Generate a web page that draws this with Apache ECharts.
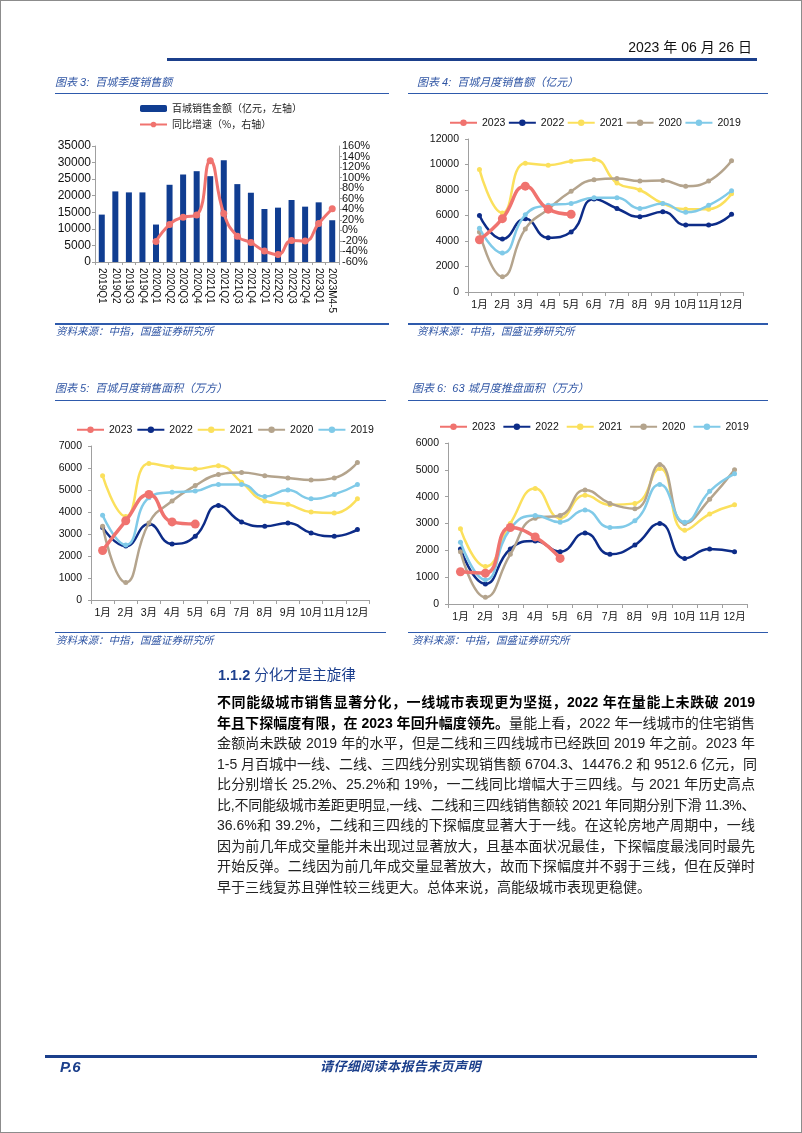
<!DOCTYPE html>
<html><head><meta charset="utf-8">
<script src="https://cdn.jsdelivr.net/npm/echarts@6/dist/echarts.min.js"></script>
<style>
html,body{margin:0;padding:0;background:#fff;}
#page{position:relative;width:802px;height:1133px;overflow:hidden;font-family:"Liberation Sans","Noto Sans CJK SC",sans-serif;background:#fff;}
#chart{position:absolute;left:0;top:0;width:802px;height:1133px;}
.frame{position:absolute;left:0;top:0;width:802px;height:1133px;border:1px solid #8c8c8c;box-sizing:border-box;pointer-events:none;}
.abs{position:absolute;white-space:nowrap;}
.rule{position:absolute;background:#2E5AAC;height:1.5px;}
.title{font-style:italic;color:#2F55A4;font-size:11px;line-height:14px;}
.src{font-style:italic;color:#2F55A4;font-size:10.5px;line-height:14px;}
#para{position:absolute;left:217px;top:692px;width:538px;font-size:14px;line-height:20.5px;color:#222;}
.ln{height:20.5px;text-align:justify;text-align-last:justify;white-space:nowrap;}
.ln.last{text-align-last:left;}
.ln.tight{letter-spacing:-0.45px;}
.ln b{color:#000;font-weight:bold;}
</style></head>
<body>
<div id="page">
<div id="chart"></div>
<div class="abs" style="right:50px;top:39px;font-size:14px;line-height:17px;color:#111;">2023 年 06 月 26 日</div>
<div class="abs" style="left:167px;top:58px;width:590px;height:2.5px;background:#1B3F8B;"></div>

<div class="abs title" style="left:55px;top:75px;">图表 3:&nbsp; 百城季度销售额</div>
<div class="rule" style="left:55px;top:92.5px;width:334px;"></div>
<div class="abs title" style="left:417px;top:75px;">图表 4:&nbsp; 百城月度销售额（亿元）</div>
<div class="rule" style="left:408px;top:92.5px;width:360px;"></div>
<div class="rule" style="left:55px;top:323px;width:334px;"></div>
<div class="abs src" style="left:56px;top:324px;">资料来源：中指，国盛证券研究所</div>
<div class="rule" style="left:408px;top:323px;width:360px;"></div>
<div class="abs src" style="left:417px;top:324px;">资料来源：中指，国盛证券研究所</div>

<div class="abs title" style="left:55px;top:381px;">图表 5:&nbsp; 百城月度销售面积（万方）</div>
<div class="rule" style="left:55px;top:399.5px;width:331px;"></div>
<div class="abs title" style="left:412px;top:381px;">图表 6:&nbsp; 63 城月度推盘面积（万方）</div>
<div class="rule" style="left:408px;top:399.5px;width:360px;"></div>
<div class="rule" style="left:55px;top:631.5px;width:331px;"></div>
<div class="abs src" style="left:56px;top:633px;">资料来源：中指，国盛证券研究所</div>
<div class="rule" style="left:408px;top:631.5px;width:360px;"></div>
<div class="abs src" style="left:412px;top:633px;">资料来源：中指，国盛证券研究所</div>

<div class="abs" style="left:218px;top:666px;font-size:14.5px;line-height:18px;color:#1C3F8E;"><b>1.1.2</b> 分化才是主旋律</div>

<div id="para">
<div class="ln"><b>不同能级城市销售显著分化，一线城市表现更为坚挺，2022 年在量能上未跌破 2019</b></div>
<div class="ln"><b>年且下探幅度有限，在 2023 年回升幅度领先。</b>量能上看，2022 年一线城市的住宅销售</div>
<div class="ln">金额尚未跌破 2019 年的水平，但是二线和三四线城市已经跌回 2019 年之前。2023 年</div>
<div class="ln">1-5 月百城中一线、二线、三四线分别实现销售额 6704.3、14476.2 和 9512.6 亿元，同</div>
<div class="ln">比分别增长 25.2%、25.2%和 19%，一二线同比增幅大于三四线。与 2021 年历史高点</div>
<div class="ln tight">比,不同能级城市差距更明显,一线、二线和三四线销售额较 2021 年同期分别下滑 11.3%、</div>
<div class="ln">36.6%和 39.2%，二线和三四线的下探幅度显著大于一线。在这轮房地产周期中，一线</div>
<div class="ln">因为前几年成交量能并未出现过显著放大，且基本面状况最佳，下探幅度最浅同时最先</div>
<div class="ln">开始反弹。二线因为前几年成交量显著放大，故而下探幅度并不弱于三线，但在反弹时</div>
<div class="ln last">早于三线复苏且弹性较三线更大。总体来说，高能级城市表现更稳健。</div>
</div>

<div class="abs" style="left:45px;top:1054.5px;width:712px;height:3px;background:#1B3F8B;"></div>
<div class="abs" style="left:60px;top:1058px;font-size:15px;line-height:17px;font-weight:bold;font-style:italic;color:#1B3F8B;">P.6</div>
<div class="abs" style="left:320px;top:1058px;font-size:13px;line-height:17px;font-weight:bold;font-style:italic;color:#1B3F8B;letter-spacing:0.4px;">请仔细阅读本报告末页声明</div>
<div class="frame"></div>
</div>

<script>
// ---- data ----
const quarters = ['2019Q1','2019Q2','2019Q3','2019Q4','2020Q1','2020Q2','2020Q3','2020Q4','2021Q1','2021Q2','2021Q3','2021Q4','2022Q1','2022Q2','2022Q3','2022Q4','2023Q1','2023M4-5'];
const quarterSales = [14300,21300,21000,21000,11300,23300,26400,27400,25900,30700,23500,20900,16000,16400,18700,16700,18000,12600];
const quarterYoY = [null,null,null,null,-21,11,25,29,132,32,-11,-23,-39,-46,-19,-20,13,41];
const months = ['1月','2月','3月','4月','5月','6月','7月','8月','9月','10月','11月','12月'];
const yearNames = ['2023','2022','2021','2020','2019'];

const amount2023 = [4100,5750,8300,6500,6100];
const amount2022 = [6000,4150,5750,4250,4700,7300,6550,5900,6300,5250,5250,6100];
const amount2021 = [9600,6200,10100,9950,10250,10400,8550,8000,6950,6500,6500,7700];
const amount2020 = [4700,1200,4950,6500,7900,8800,8900,8700,8750,8300,8700,10300];
const amount2019 = [5000,3050,6050,6800,6950,7400,7400,6550,6950,6250,6800,7950];

const area2023 = [2250,3600,4800,3550,3450];
const area2022 = [3300,2450,3450,2550,2900,4300,3550,3350,3500,3050,2900,3200];
const area2021 = [5650,3800,6200,6050,5950,6100,5350,4500,4350,4000,3950,4600];
const area2020 = [3350,800,3500,4500,5200,5700,5800,5650,5550,5450,5550,6250];
const area2019 = [3850,2500,4650,4900,4950,5250,5250,4700,5000,4600,4800,5250];

const launch2023 = [1200,1150,2850,2500,1700];
const launch2022 = [2050,750,2050,2350,1950,2650,1850,2200,3000,1700,2050,1950];
const launch2021 = [2800,1400,3000,4300,3200,4050,3700,3750,5050,2750,3350,3700];
const launch2020 = [1950,250,1850,3200,3300,4250,3750,3550,5200,3000,3900,5000];
const launch2019 = [2300,900,2800,3300,3050,3500,2850,3100,4450,3050,4200,4850];

// axis ranges [min, max, interval]
const salesAxisRange = [0,35000,5000];
const yoyAxisRange = [-60,160,20];
const amountAxisRange = [0,12000,2000];
const areaAxisRange = [0,7000,1000];
const launchAxisRange = [0,6000,1000];

// ---- styles ----
const yearColors = ['#F0736F','#0D2C88','#FBE05C','#B4A48D','#80CAE8'];
const yearWidths = [3.5,2.5,2.5,2.5,2.5];
const yearSymbols = [9,5,5,5,5];
const yearZ = [10,5,6,7,8];
const axisGray = '#A0A0A0';
const latinCjk = 'Liberation Sans, Noto Sans CJK SC, sans-serif';

const chart = echarts.init(document.getElementById('chart'), null, {renderer:'canvas'});

function plain(v) { return String(v); }
function yAxisOf(gridIndex, range, label, extra) {
  return Object.assign({
    gridIndex, type:'value', min:range[0], max:range[1], interval:range[2],
    splitLine:{show:false},
    axisLine:{show:true, lineStyle:{color:axisGray}},
    axisTick:{show:true, length:3, lineStyle:{color:axisGray}},
    axisLabel:Object.assign({fontSize:10.5, color:'#111', margin:9, fontFamily:latinCjk,
      formatter:plain, hideOverlap:false, showMinLabel:true, showMaxLabel:true}, label || {})
  }, extra || {});
}
function monthAxis(gridIndex) {
  return {
    gridIndex, type:'category', data:months, boundaryGap:true,
    axisLine:{lineStyle:{color:axisGray}},
    axisTick:{show:true, length:4, lineStyle:{color:axisGray}},
    axisLabel:{fontSize:10.5, color:'#111', margin:8, interval:0, fontFamily:latinCjk, hideOverlap:false}
  };
}
function yearSeries(lists, axisIndex, yIndex) {
  return lists.map((data, i) => ({
    type:'line', name:yearNames[i], xAxisIndex:axisIndex, yAxisIndex:yIndex,
    data, smooth:0.5, symbol:'circle', symbolSize:yearSymbols[i], showAllSymbol:true,
    z:yearZ[i],
    lineStyle:{color:yearColors[i], width:yearWidths[i]},
    itemStyle:{color:yearColors[i]}
  }));
}
function yearLegend(left, top, gap) {
  return {
    data:yearNames, left, top, padding:0, orient:'horizontal', itemWidth:27, itemHeight:8, itemGap:gap,
    textStyle:{fontSize:10.5, color:'#111', fontFamily:latinCjk}, selectedMode:false
  };
}
const isYoyEnd = v => v === yoyAxisRange[0] || v === yoyAxisRange[1];

const option = {
  animation:false,
  grid:[
    {left:95, top:146, width:244, height:116},
    {left:468, top:139, width:275, height:153},
    {left:91, top:446, width:278, height:154},
    {left:448, top:443, width:299, height:161}
  ],
  legend:[
    {data:['百城销售金额（亿元，左轴）','同比增速（%，右轴）'], left:139, top:103.5, padding:0, orient:'vertical',
     itemWidth:27, itemHeight:7, itemGap:6, selectedMode:false,
     textStyle:{fontSize:10, color:'#222', fontFamily:'Noto Sans CJK SC, sans-serif'}},
    yearLegend(449, 117.5, 2.5),
    yearLegend(76, 424.5, 4),
    yearLegend(439, 421.5, 7)
  ],
  xAxis:[
    {gridIndex:0, type:'category', data:quarters, boundaryGap:true,
     axisLine:{lineStyle:{color:axisGray}},
     axisTick:{show:true, length:3, lineStyle:{color:axisGray}},
     axisLabel:{rotate:-90, fontSize:10, color:'#111', margin:6, interval:0, hideOverlap:false,
       fontFamily:'Liberation Sans Narrow, Liberation Sans, sans-serif'}},
    monthAxis(1), monthAxis(2), monthAxis(3)
  ],
  yAxis:[
    yAxisOf(0, salesAxisRange, {fontSize:12, margin:4}),
    // right axis: inner labels
    yAxisOf(0, yoyAxisRange, {fontSize:11, margin:3, showMinLabel:false, showMaxLabel:false,
      formatter: v => isYoyEnd(v) ? '' : v + '%'}, {position:'right'}),
    yAxisOf(1, amountAxisRange),
    yAxisOf(2, areaAxisRange),
    yAxisOf(3, launchAxisRange),
    // right axis: end labels (same scale, no line)
    yAxisOf(0, yoyAxisRange, {fontSize:11, margin:3,
      formatter: v => isYoyEnd(v) ? v + '%' : ''},
      {position:'right', axisLine:{show:false}, axisTick:{show:false}})
  ],
  series:[
    {type:'bar', name:'百城销售金额（亿元，左轴）', xAxisIndex:0, yAxisIndex:0, data:quarterSales,
     barWidth:6, itemStyle:{color:'#103D91'}},
    {type:'line', name:'同比增速（%，右轴）', xAxisIndex:0, yAxisIndex:1, data:quarterYoY,
     smooth:0.5, symbol:'circle', symbolSize:7, z:10,
     lineStyle:{color:'#F0736F', width:3}, itemStyle:{color:'#F0736F'}},
    ...yearSeries([amount2023,amount2022,amount2021,amount2020,amount2019], 1, 2),
    ...yearSeries([area2023,area2022,area2021,area2020,area2019], 2, 3),
    ...yearSeries([launch2023,launch2022,launch2021,launch2020,launch2019], 3, 4)
  ]
};
chart.setOption(option);
</script>
</body></html>
